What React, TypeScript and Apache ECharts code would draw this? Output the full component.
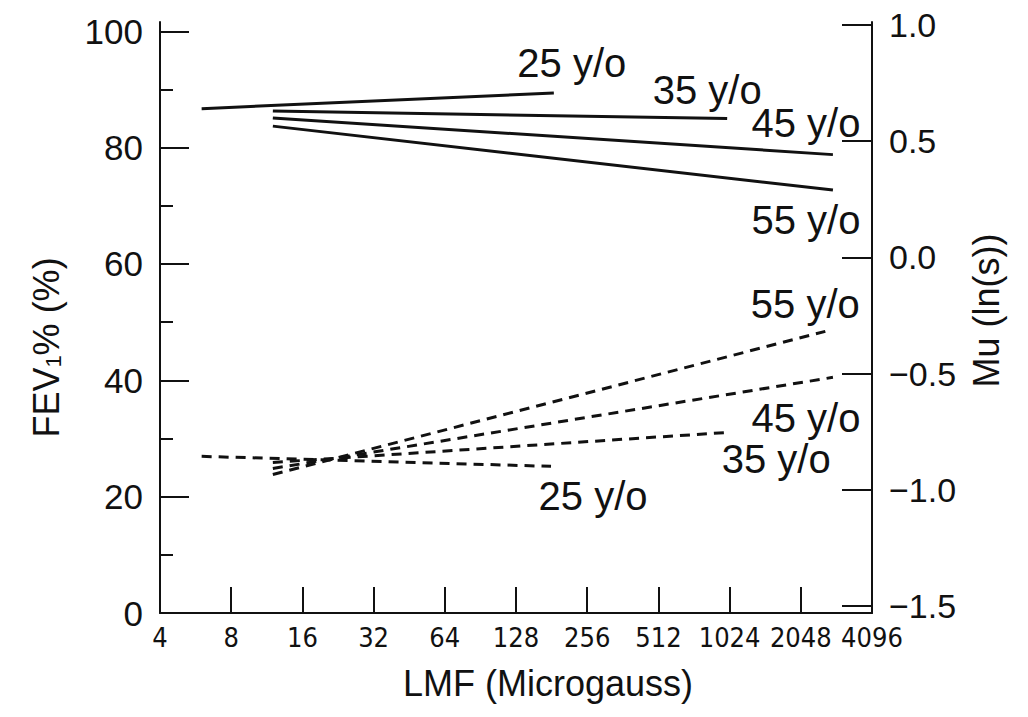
import React, { useEffect, useRef } from "react";
import * as echarts from "echarts";

// ---- data ----
const lmfTicks = [4, 8, 16, 32, 64, 128, 256, 512, 1024, 2048, 4096];
const fevTicks = [0, 20, 40, 60, 80, 100];
const fevMinorTicks = [10, 30, 50, 70, 90];
const muTicks = [-1.5, -1.0, -0.5, 0.0, 0.5, 1.0];

const ageLabels = ["25 y/o", "35 y/o", "45 y/o", "55 y/o"];

// FEV1 % (solid lines): [start, end] LMF and FEV1 values
const fevLMF = [
  [6, 185],
  [12, 1000],
  [12, 2800],
  [12, 2800],
];
const fevValues = [
  [86.7, 89.4],
  [86.3, 85.0],
  [85.1, 78.8],
  [83.7, 72.7],
];

// Mu (dashed lines): [start, end] LMF and Mu values
const muLMF = [
  [6, 180],
  [12, 1000],
  [12, 2800],
  [12, 2600],
];
const muValues = [
  [-0.856, -0.899],
  [-0.882, -0.753],
  [-0.908, -0.516],
  [-0.934, -0.318],
];

// ---- layout / style ----
const fevLabelOffsets = [
  [18, -30],
  [-20, -29],
  [-27, -32],
  [-27, 30],
];
const muLabelOffsets = [
  [42, 30],
  [49, 27],
  [-27, 41],
  [-20, -27],
];

const INK = "#111";
const FONT = "'Liberation Sans', Arial, Helvetica, sans-serif";
const NARROW = "'Liberation Sans Narrow', 'DejaVu Sans Condensed', 'Liberation Sans', sans-serif";

function buildSeries(
  lmf: number[][],
  vals: number[][],
  yAxisIndex: number,
  dashed: boolean,
  offsets: number[][]
) {
  return ageLabels.map((age, i) => ({
    type: "line",
    name: (dashed ? "Mu " : "FEV1 ") + age,
    xAxisIndex: 0,
    yAxisIndex,
    symbol: "circle",
    symbolSize: 0,
    showSymbol: true,
    silent: true,
    lineStyle: {
      color: INK,
      width: 3,
      type: dashed ? [10, 7] : "solid",
    },
    itemStyle: { color: INK },
    label: {
      show: false,
      position: "inside",
      fontSize: 40,
      fontFamily: FONT,
      color: INK,
    },
    data: [
      { value: [lmf[i][0], vals[i][0]] },
      {
        value: [lmf[i][1], vals[i][1]],
        label: { show: true, formatter: age, offset: offsets[i] },
      },
    ],
  }));
}

export default function App() {
  const ref = useRef<HTMLDivElement>(null);

  useEffect(() => {
    const chart = echarts.init(ref.current!, null, { renderer: "svg" });
    const option: any = {
      animation: false,
      backgroundColor: "#fff",
      textStyle: { fontFamily: FONT, color: INK },
      grid: { left: 160, right: 156, top: 22, bottom: 104, containLabel: false },
      xAxis: {
        type: "log",
        logBase: 2,
        min: 4,
        max: 4096,
        interval: 1,
        name: "LMF (Microgauss)",
        nameLocation: "middle",
        nameGap: 52,
        nameTextStyle: { fontSize: 36, fontFamily: FONT, color: INK, padding: [0, 0, 0, 64] },
        axisLine: { show: true, lineStyle: { color: INK, width: 2 } },
        axisTick: { show: true, inside: true, length: 26, lineStyle: { color: INK, width: 2 } },
        axisLabel: {
          fontSize: 27,
          fontFamily: NARROW,
          color: INK,
          margin: 11,
          customValues: lmfTicks,
          formatter: (v: number) => String(Math.round(v)),
        },
        splitLine: { show: false },
      },
      yAxis: [
        {
          type: "value",
          position: "left",
          min: 0,
          max: 101.6,
          name: "FEV{sub|1}% (%)",
          nameLocation: "middle",
          nameRotate: 90,
          nameGap: 96,
          nameTextStyle: {
            fontSize: 36,
            fontFamily: FONT,
            color: INK,
            padding: [0, 60, 0, 0],
            rich: {
              sub: { fontSize: 22, fontFamily: FONT, color: INK, padding: [14, 0, 0, 0] },
            },
          },
          axisLine: { show: true, lineStyle: { color: INK, width: 2 } },
          axisTick: {
            show: true,
            inside: true,
            length: 29,
            customValues: fevTicks,
            lineStyle: { color: INK, width: 2 },
          },
          axisLabel: {
            fontSize: 35,
            fontFamily: FONT,
            color: INK,
            margin: 17,
            customValues: fevTicks,
          },
          splitLine: { show: false },
        },
        {
          type: "value",
          position: "left",
          min: 0,
          max: 101.6,
          axisLine: { show: false },
          axisTick: {
            show: true,
            inside: true,
            length: 13,
            customValues: fevMinorTicks,
            lineStyle: { color: INK, width: 2 },
          },
          axisLabel: { show: false },
          splitLine: { show: false },
        },
        {
          type: "value",
          position: "right",
          min: -1.53,
          max: 1.013,
          name: "Mu (ln(s))",
          nameLocation: "middle",
          nameRotate: 90,
          nameGap: 96,
          nameTextStyle: { fontSize: 36, fontFamily: FONT, color: INK, padding: [0, 0, 0, 14] },
          axisLine: { show: true, lineStyle: { color: INK, width: 2 } },
          axisTick: {
            show: true,
            inside: true,
            length: 30,
            customValues: muTicks,
            lineStyle: { color: INK, width: 2 },
          },
          axisLabel: {
            fontSize: 34,
            fontFamily: FONT,
            color: INK,
            margin: 17,
            customValues: muTicks,
            formatter: (v: number) => (v < 0 ? "\u2212" : "") + Math.abs(v).toFixed(1),
          },
          splitLine: { show: false },
        },
      ],
      series: [
        ...buildSeries(fevLMF, fevValues, 0, false, fevLabelOffsets),
        ...buildSeries(muLMF, muValues, 2, true, muLabelOffsets),
      ],
    };
    chart.setOption(option);
    return () => chart.dispose();
  }, []);

  return (
    <div
      ref={ref}
      style={{ position: "fixed", left: 0, top: 0, width: 1028, height: 717, background: "#fff" }}
    />
  );
}
